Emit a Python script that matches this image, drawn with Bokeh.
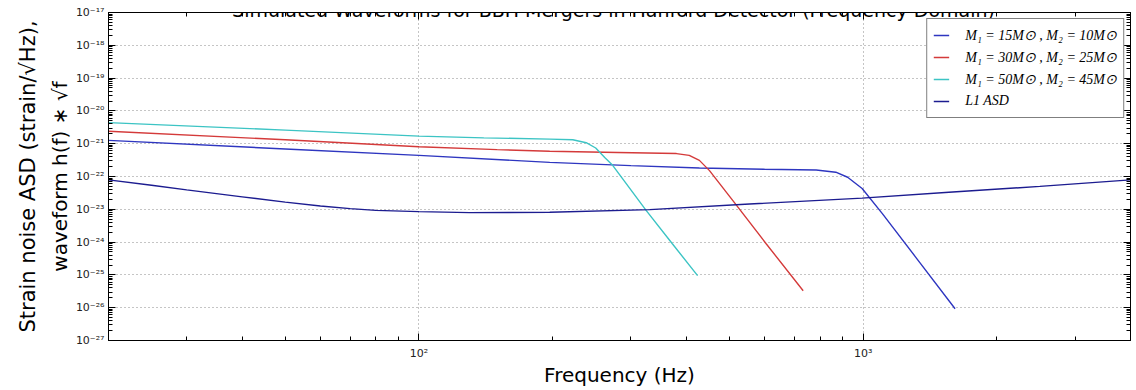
from bokeh.plotting import figure
from bokeh.models import (FixedTicker, CustomJSTickFormatter, LogAxis, Label,
                          Legend, LegendItem, Range1d, Title)
from bokeh.embed import file_html
from bokeh.resources import INLINE

# ---------------- texts ----------------
TITLE = "Simulated Waveforms for BBH Mergers in Hanford Detector (Frequency Domain)"
X_LABEL = "Frequency (Hz)"
Y_LABEL_1 = "Strain noise ASD (strain/\u221aHz),"
Y_LABEL_2 = "waveform h(f) \u2217 \u221af"
LABELS = ["M\u2081 = 15M\u2299 , M\u2082 = 10M\u2299",
          "M\u2081 = 30M\u2299 , M\u2082 = 25M\u2299",
          "M\u2081 = 50M\u2299 , M\u2082 = 45M\u2299",
          "L1 ASD"]

# ---------------- ticks ----------------
x_major = [100, 1000]
x_minor = [20, 30, 40, 50, 60, 70, 80, 90,
           200, 300, 400, 500, 600, 700, 800, 900,
           2000, 3000, 4000]
y_exponents = [-27, -26, -25, -24, -23, -22, -21, -20, -19, -18, -17]

# ---------------- data ----------------
wf1_freq = [20, 50, 100, 197, 300, 428, 600, 784, 868, 923, 995, 1105, 1313, 1611]
wf1_amp = [1.26e-21, 6.9e-22, 4.4e-22, 2.7e-22, 2.14e-22, 1.82e-22, 1.66e-22, 1.58e-22,
           1.35e-22, 9.5e-23, 4.3e-23, 7.4e-24, 3.5e-25, 9.3e-27]

wf2_freq = [20, 50, 100, 150, 197, 280, 380, 406, 428, 451, 519, 605, 733]
wf2_amp = [2.4e-21, 1.32e-21, 8.1e-22, 6.6e-22, 5.9e-22, 5.4e-22, 5.0e-22, 4.4e-22,
           3.1e-22, 1.51e-22, 1.32e-23, 8.9e-25, 3.3e-26]

wf3_freq = [20, 50, 100, 140, 197, 222, 238, 250, 262, 273, 325, 372, 424]
wf3_amp = [4.4e-21, 2.6e-21, 1.70e-21, 1.51e-21, 1.38e-21, 1.32e-21, 1.07e-21, 7.4e-22,
           3.8e-22, 2.19e-22, 9.1e-24, 8.9e-25, 9.5e-26]

asd_freq = [20, 25, 30, 40, 50, 60, 70, 80, 100, 130, 197, 331, 555, 995, 1560, 2500, 4000]
asd_amp = [7.9e-23, 5.4e-23, 3.9e-23, 2.4e-23, 1.66e-23, 1.26e-23, 1.05e-23, 9.3e-24,
           8.5e-24, 7.9e-24, 8.1e-24, 9.8e-24, 1.45e-23, 2.19e-23, 3.3e-23, 5.0e-23, 7.9e-23]

COLORS = ["#2e36c0", "#d43a3a", "#3cc4c4", "#1c1c90"]

FRAME_W = 1022
FRAME_H = 328

p = figure(frame_width=FRAME_W, frame_height=FRAME_H,
           x_axis_type="log", y_axis_type="log",
           x_range=Range1d(20, 4000), y_range=Range1d(1e-27, 1e-17),
           output_backend="svg", toolbar_location=None,
           min_border_left=108, min_border_right=1, min_border_top=12,
           min_border_bottom=10,
           background_fill_color="white", border_fill_color="white")
p.outline_line_color = "black"
p.outline_line_width = 1

x_ticker = FixedTicker(ticks=x_major, minor_ticks=x_minor)
y_ticker = FixedTicker(ticks=[10.0 ** e for e in y_exponents],
                       minor_ticks=[k * 10.0 ** e for e in y_exponents[:-1] for k in range(2, 10)])

fmt = CustomJSTickFormatter(code="""
const e = Math.round(Math.log10(tick));
const sup = {"-":"\u207b","0":"\u2070","1":"\u00b9","2":"\u00b2","3":"\u00b3","4":"\u2074",
             "5":"\u2075","6":"\u2076","7":"\u2077","8":"\u2078","9":"\u2079"};
return "10" + String(e).split("").map(c => sup[c]).join("");
""")
blank_fmt = CustomJSTickFormatter(code="return '';")

def style_axis(ax, ticker, show_labels):
    ax.ticker = ticker
    ax.major_tick_in = 7
    ax.major_tick_out = 0
    ax.minor_tick_in = 4
    ax.minor_tick_out = 0
    ax.major_tick_line_color = "black"
    ax.minor_tick_line_color = "black"
    ax.axis_line_color = "black"
    ax.axis_line_width = 1
    if show_labels:
        ax.formatter = fmt
        ax.major_label_text_font = "DejaVu Sans"
        ax.major_label_text_font_size = "11px"
        ax.major_label_text_color = "#222222"
    else:
        ax.formatter = blank_fmt
        ax.major_label_text_font_size = "1px"
        ax.major_label_standoff = 0

style_axis(p.xaxis[0], x_ticker, True)
style_axis(p.yaxis[0], y_ticker, True)
p.xaxis[0].major_label_standoff = 6
p.yaxis[0].major_label_standoff = 4
p.xaxis[0].axis_label = X_LABEL
p.xaxis[0].axis_label_text_font = "DejaVu Sans"
p.xaxis[0].axis_label_text_font_size = "20px"
p.xaxis[0].axis_label_text_font_style = "normal"
p.xaxis[0].axis_label_text_color = "black"
p.xaxis[0].axis_label_standoff = 0

top_axis = LogAxis()
style_axis(top_axis, x_ticker, False)
p.add_layout(top_axis, "above")
right_axis = LogAxis()
style_axis(right_axis, y_ticker, False)
p.add_layout(right_axis, "right")

p.xgrid.ticker = x_ticker
p.ygrid.ticker = y_ticker
for g in (p.xgrid, p.ygrid):
    g.grid_line_color = "#8a8a8a"
    g.grid_line_dash = "1 3"
    g.grid_line_width = 1

series = [(wf1_freq, wf1_amp), (wf2_freq, wf2_amp), (wf3_freq, wf3_amp), (asd_freq, asd_amp)]
renderers = []
for (fx, fy), c in zip(series, COLORS):
    r = p.line(x=fx, y=fy, line_color=c, line_width=1.4)
    renderers.append(r)

legend = Legend(items=[LegendItem(label=lab, renderers=[r]) for lab, r in zip(LABELS, renderers)],
                location="top_right", margin=6, padding=6, spacing=2,
                glyph_width=16, glyph_height=20, label_height=20, label_standoff=16,
                label_text_font="Liberation Serif", label_text_font_style="italic",
                label_text_font_size="14px", label_text_color="black",
                border_line_color="black", border_line_width=1,
                background_fill_color="white", background_fill_alpha=1.0)
p.add_layout(legend)

p.add_layout(Label(x=505, y=FRAME_H + 3, x_units="screen", y_units="screen",
                   text=TITLE, text_align="center", text_baseline="alphabetic",
                   text_font="DejaVu Sans", text_font_size="19px", text_color="black"))

# two-line y-axis label as vertical titles on the left side (inner line first)
p.add_layout(Title(text=Y_LABEL_2, align="center", text_font="DejaVu Sans",
                   text_font_size="20px", text_font_style="normal", text_color="black",
                   standoff=2), "left")
p.add_layout(Title(text=Y_LABEL_1, align="center", text_font="DejaVu Sans",
                   text_font_size="21px", text_font_style="normal", text_color="black",
                   standoff=10), "left")

open("out.html", "w").write(file_html(p, INLINE))
